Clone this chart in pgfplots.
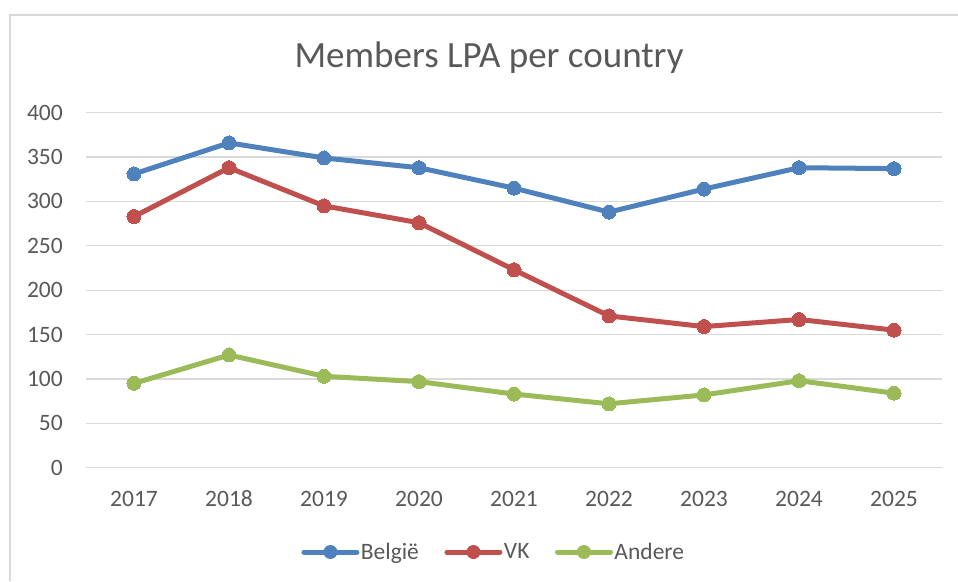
\documentclass[border=0pt]{standalone}
\usepackage{pgfplots}
\pgfplotsset{compat=1.18}
\usepackage{fontspec}
\setmainfont{Carlito}
\definecolor{cB}{HTML}{4F81BD}
\definecolor{cR}{HTML}{C0504D}
\definecolor{cG}{HTML}{9BBB59}
\definecolor{txt}{HTML}{595959}
\definecolor{grd}{HTML}{D9D9D9}
\pgfplotstableread{
x belg vk andere
0 331 283 95
1 366 338 127
2 349 295 103
3 338 276 97
4 315 223 83
5 288 171 72
6 314 159 82
7 338 167 98
8 337 155 84
}\data
\begin{document}
\begin{tikzpicture}[x=1pt,y=1pt]
\path[use as bounding box] (-86.5,-113.3) rectangle (871.5,467.7);
\draw[grd, line width=1.2pt] (-76.5,-113.3) -- (-76.5,452.7) -- (871.5,452.7);
\begin{axis}[
  at={(0,0)}, anchor=south west,
  scale only axis, width=855pt, height=355pt,
  xmin=-0.5, xmax=8.5, ymin=0, ymax=400,
  xtick={0,...,8},
  xticklabels={2017,2018,2019,2020,2021,2022,2023,2024,2025},
  ytick={0,50,...,400},
  axis line style={draw=none},
  major tick length=0pt,
  ymajorgrids,
  grid style={grd, line width=1.3pt},
  tick label style={font=\fontsize{23.5}{26}\selectfont, text=txt, inner sep=0pt},
  /pgf/number format/assume math mode=true,
  xticklabel style={anchor=base, yshift=-38.3pt},
  yticklabel style={anchor=east, xshift=-23.5pt},
  title={Members LPA per country},
  title style={at={(0.4708,1)}, anchor=base, yshift=38.7pt, font=\fontsize{37}{40}\selectfont, text=txt, inner sep=0pt},
  legend style={at={(0.476,-0.2375)}, anchor=center, draw=none, fill=none,
    font=\fontsize{23.5}{26}\selectfont, text=txt,
    legend columns=3,
    /tikz/every even column/.append style={column sep=24pt},
    nodes={inner sep=1.5pt}},
  legend image code/.code={
    \draw[#1, line width=5pt, line cap=round] (0pt,0pt) -- (53pt,0pt);
    \fill[#1, draw=none] (26.5pt,0pt) circle (7pt);
  },
  every axis plot/.append style={line width=5pt, line join=round, mark=*, mark size=7pt, mark options={solid}},
]
\addplot[cB, mark options={fill=cB, draw=cB, line width=0pt}] table[x=x,y=belg]{\data};
\addlegendentry{België}
\addplot[cR, mark options={fill=cR, draw=cR, line width=0pt}] table[x=x,y=vk]{\data};
\addlegendentry{VK}
\addplot[cG, mark options={fill=cG, draw=cG, line width=0pt}] table[x=x,y=andere]{\data};
\addlegendentry{Andere}
\end{axis}
\end{tikzpicture}
\end{document}
